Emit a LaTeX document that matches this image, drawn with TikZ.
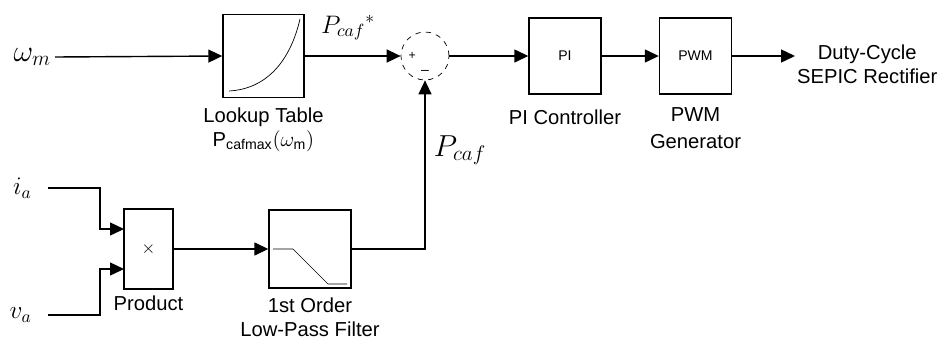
\documentclass[tikz,border=0pt]{standalone}
\usepackage{fontspec}
\setmainfont{Liberation Sans}
\usepackage{tikz}
\usetikzlibrary{positioning, arrows.meta}
\tikzset{
  blk/.style={draw, line width=0.8pt, inner sep=0pt},
  lutblk/.style={blk, minimum width=1.62cm, minimum height=1.66cm},
  ctlblk/.style={blk, minimum width=1.44cm, minimum height=1.52cm, font=\footnotesize},
  sumblk/.style={circle, draw, dashed, thin, minimum size=0.96cm, inner sep=0pt},
  lbl/.style={align=center, font=\fontsize{11.5}{13.5}\selectfont, inner sep=1pt},
  sig/.style={-{Triangle[length=2.8mm, width=2.6mm]}, line width=0.8pt},
}

\begin{document}
\begin{tikzpicture}[x=0.02cm, y=-0.02cm, node distance=2mm]
  \useasboundingbox (0,0) rectangle (946,349);
  % top row
  \node[lutblk](lut) at (263.5,56){};
  \node[sumblk](sum) at (425,56){};
  \node[ctlblk](pi) at (565,56){PI};
  \node[ctlblk](pwm) at (695.5,56){PWM};
  \node[lbl, anchor=west](out) at (795,64){Duty-Cycle\\SEPIC Rectifier};
  \node[anchor=east, font=\LARGE, inner xsep=2pt](wm) at (55,57){$\omega_m$};
  \node[font=\Large](prefl) at (348,28){$P_{caf}{}^{*}$};
  \node[font=\scriptsize, right=1pt of sum.west](plus){+};
  \node[font=\footnotesize, above=0pt of sum.south](minus){--};
  % bottom row
  \node[blk, minimum width=0.98cm, minimum height=1.6cm](prod) at (148.5,249){$\times$};
  \node[blk, minimum width=1.64cm, minimum height=1.56cm](lpf) at (310,249){};
  \node[anchor=east, font=\Large, inner xsep=9pt](ia) at (48,188){$i_a$};
  \node[anchor=east, font=\Large, inner xsep=9pt](va) at (48,315){$v_a$};
  \node[font=\LARGE](pfbl) at (460,150){$P_{caf}$};
  \coordinate (p1) at (124,229);
  \coordinate (p2) at (124,269);
  % block captions
  \node[lbl, below=1.5mm of lut](lutlbl){Lookup Table\\$\mathrm{P}_{\mathrm{cafmax}}(\omega_{\mathrm{m}})$};
  \node[lbl, below=2.6mm of pi](pilbl){PI Controller};
  \node[lbl, below=2.2mm of pwm](pwmlbl){PWM\\[2pt]Generator};
  \node[lbl, below=0.8mm of prod](prodlbl){Product};
  \node[lbl, below=1.4mm of lpf](lpflbl){1st Order\\Low-Pass Filter};
  % icons
  \draw[thin] (229,91) .. controls (266,89) and (290,62) .. (300,19);
  \draw[thin] (273,249) -- (293,249) -- (328,284) -- (347,284);
  % signals
  \draw[sig](wm.east)--(lut.west);
  \draw[sig](lut.east)--(sum.west);
  \draw[sig](sum.east)--(pi.west);
  \draw[sig](pi.east)--(pwm.west);
  \draw[sig](pwm.east)--(pwm.east-|out.west);
  \draw[sig](ia.east)--++(52,0)|-(p1);
  \draw[sig](va.east)--++(52,0)|-(p2);
  \draw[sig](prod.east)--(lpf.west);
  \draw[sig](lpf.east)-|(sum.south);
\end{tikzpicture}
\end{document}
